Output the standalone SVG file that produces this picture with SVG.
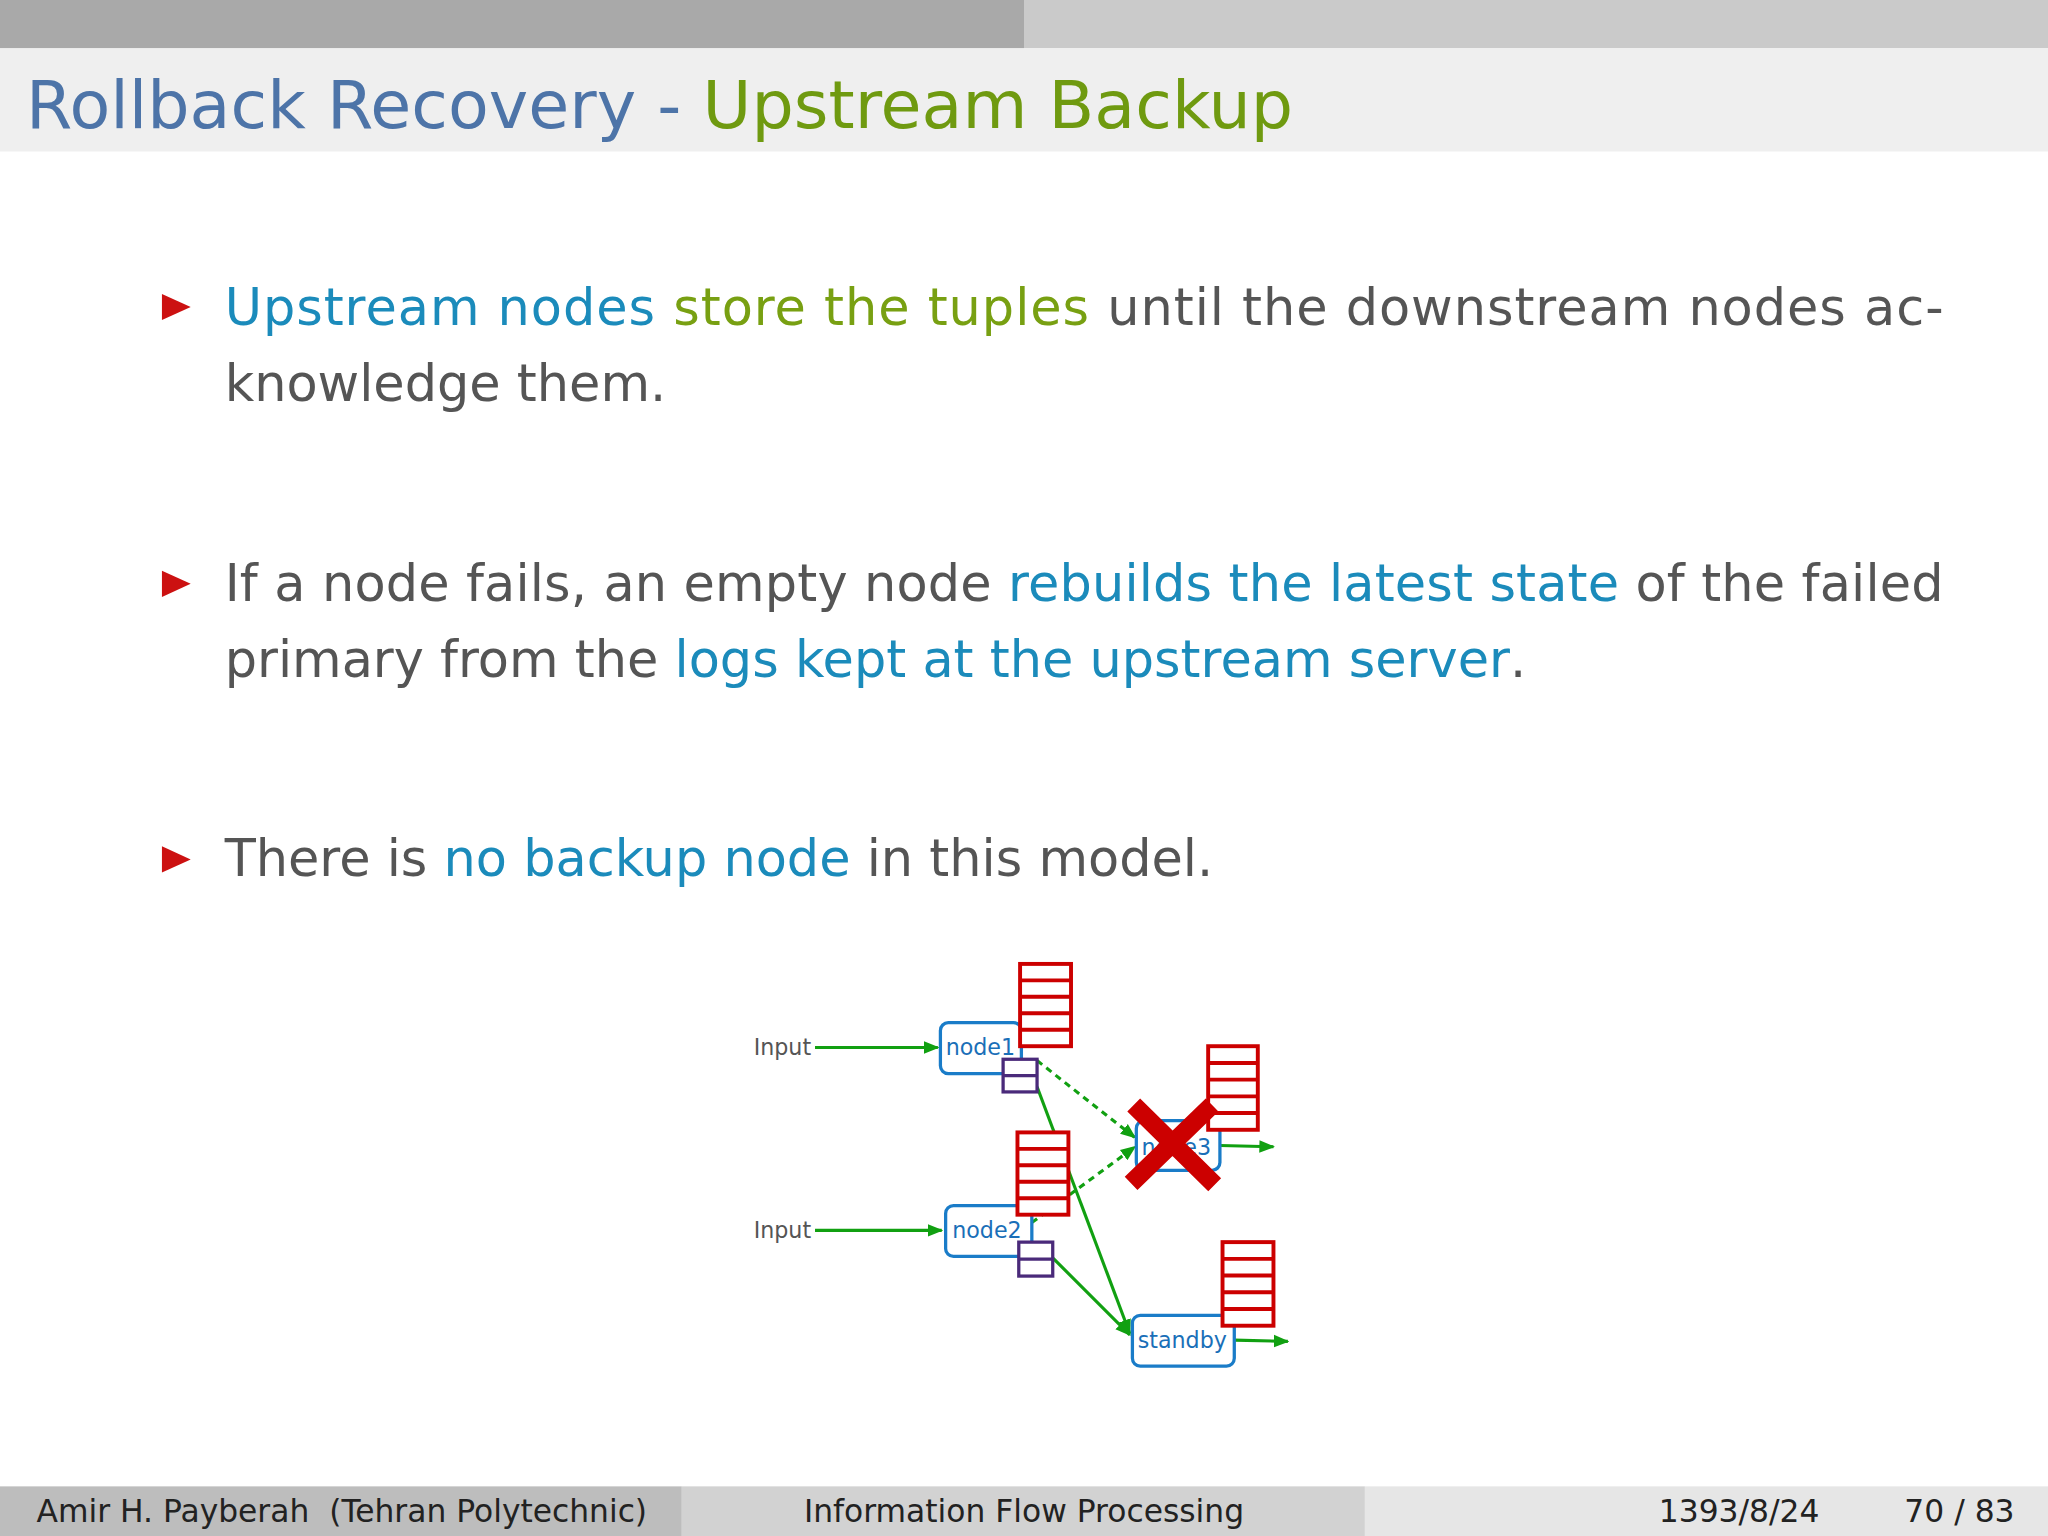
<svg xmlns="http://www.w3.org/2000/svg" width="2048" height="1536" viewBox="0 0 2048 1536">
<defs>
<style>
.t{font-family:"DejaVu Sans","Liberation Sans",sans-serif}
.b{font-size:39px;fill:#555}
.bl{fill:#1b8bbb}.gr{fill:#78a012}
.nb{fill:#fff;stroke:#1a7cc8;stroke-width:2.5}
.nt{font-size:17px;fill:#1a6fb8}
.st{fill:#fff;stroke:#cc0000;stroke-width:3}
.pu{fill:#fff;stroke:#4a2a7a;stroke-width:2.5}
.e{stroke:#11a011;stroke-width:2.4;fill:none}
</style>
<marker id="a" viewBox="0 0 10 10" refX="9" refY="5" markerWidth="5" markerHeight="5" orient="auto"><path d="M0,1L10,5L0,9z" fill="#11a011"/></marker>
</defs>
<rect width="2048" height="1536" fill="#fff"/>
<g transform="scale(1.306122)">
<rect x="0" y="0" width="784" height="37" fill="#a9a9a9"/>
<rect x="784" y="0" width="784" height="37" fill="#cacaca"/>
<rect x="0" y="37" width="1568" height="79" fill="#efefef"/>
<text class="t" x="20" y="98" font-size="51" fill="#4d74a8" textLength="970" lengthAdjust="spacingAndGlyphs">Rollback Recovery - <tspan fill="#6f9a10">Upstream Backup</tspan></text>

<g id="bullets">
<path d="M124,225L146,235L124,245z" fill="#cc1111"/>
<path d="M124,437L146,447L124,457z" fill="#cc1111"/>
<path d="M124,648L146,658L124,668z" fill="#cc1111"/>
<text class="t b" x="172" y="249" textLength="1316" lengthAdjust="spacing"><tspan class="bl">Upstream nodes</tspan> <tspan class="gr">store the tuples</tspan> until the downstream nodes ac-</text>
<text class="t b" x="172" y="307">knowledge them.</text>
<text class="t b" x="172" y="460" textLength="1316" lengthAdjust="spacing">If a node fails, an empty node <tspan class="bl">rebuilds the latest state</tspan> of the failed</text>
<text class="t b" x="172" y="518">primary from the <tspan class="bl">logs kept at the upstream server</tspan>.</text>
<text class="t b" x="172" y="671">There is <tspan class="bl">no backup node</tspan> in this model.</text>
</g>

<g id="connectors">
<line class="e" x1="624" y1="802" x2="718" y2="802" marker-end="url(#a)"/>
<line class="e" x1="624" y1="942" x2="721" y2="942" stroke-width="3.2" marker-end="url(#a)"/>
<line class="e" x1="794" y1="812" x2="869" y2="871" stroke-dasharray="5,4" marker-end="url(#a)"/>
<line class="e" x1="790" y1="936" x2="869" y2="878" stroke-dasharray="5,4" marker-end="url(#a)"/>
<line class="e" x1="794" y1="832" x2="865" y2="1021" marker-end="url(#a)"/>
<line class="e" x1="806" y1="963" x2="865" y2="1022" marker-end="url(#a)"/>
<line class="e" x1="934" y1="877" x2="975" y2="878" marker-end="url(#a)"/>
<line class="e" x1="945" y1="1026" x2="986" y2="1027" marker-end="url(#a)"/>
</g>

<text class="t" x="577" y="808" font-size="17" fill="#555">Input</text>
<text class="t" x="577" y="948" font-size="17" fill="#555">Input</text>

<g id="node1">
<rect class="nb" x="720" y="783" width="62" height="39" rx="6"/>
<text class="t nt" x="724" y="808">node1</text>
<rect class="st" x="781" y="738" width="39" height="63"/>
<path d="M781,750.6H820M781,763.2H820M781,775.8H820M781,788.4H820" stroke="#cc0000" stroke-width="3"/>
<rect class="pu" x="768" y="811" width="26" height="25"/>
<line x1="768" y1="823.5" x2="794" y2="823.5" stroke="#4a2a7a" stroke-width="2.5"/>
</g>
<g id="node2">
<rect class="nb" x="724" y="923" width="66" height="39" rx="6"/>
<text class="t nt" x="729" y="948">node2</text>
<rect class="st" x="779" y="867" width="39" height="63"/>
<path d="M779,879.6H818M779,892.2H818M779,904.8H818M779,917.4H818" stroke="#cc0000" stroke-width="3"/>
<rect class="pu" x="780" y="951" width="26" height="26"/>
<line x1="780" y1="964" x2="806" y2="964" stroke="#4a2a7a" stroke-width="2.5"/>
</g>
<g id="node3">
<rect class="nb" x="870" y="858" width="64" height="38" rx="6"/>
<text class="t nt" x="874" y="884">node3</text>
<rect class="st" x="925" y="801" width="38" height="64"/>
<path d="M925,813.8H963M925,826.6H963M925,839.4H963M925,852.2H963" stroke="#cc0000" stroke-width="3"/>
<path d="M868,846L930,907M928,846L866,906" stroke="#cc0000" stroke-width="14"/>
</g>
<g id="standby">
<rect class="nb" x="867" y="1007" width="78" height="39" rx="6"/>
<text class="t nt" x="871" y="1032">standby</text>
<rect class="st" x="936" y="951" width="39" height="64"/>
<path d="M936,963.8H975M936,976.6H975M936,989.4H975M936,1002.2H975" stroke="#cc0000" stroke-width="3"/>
</g>

<g id="footer">
<rect x="0" y="1138" width="522" height="38" fill="#bdbdbd"/>
<rect x="522" y="1138" width="523" height="38" fill="#d2d2d2"/>
<rect x="1045" y="1138" width="523" height="38" fill="#e6e6e6"/>
<text class="t" x="28" y="1165" font-size="24" fill="#222" xml:space="preserve">Amir H. Payberah  (Tehran Polytechnic)</text>
<text class="t" x="784" y="1165" font-size="24" fill="#222" text-anchor="middle">Information Flow Processing</text>
<text class="t" x="1270" y="1165" font-size="24" fill="#222">1393/8/24</text>
<text class="t" x="1458" y="1165" font-size="24" fill="#222">70 / 83</text>
</g>
</g>
</svg>
